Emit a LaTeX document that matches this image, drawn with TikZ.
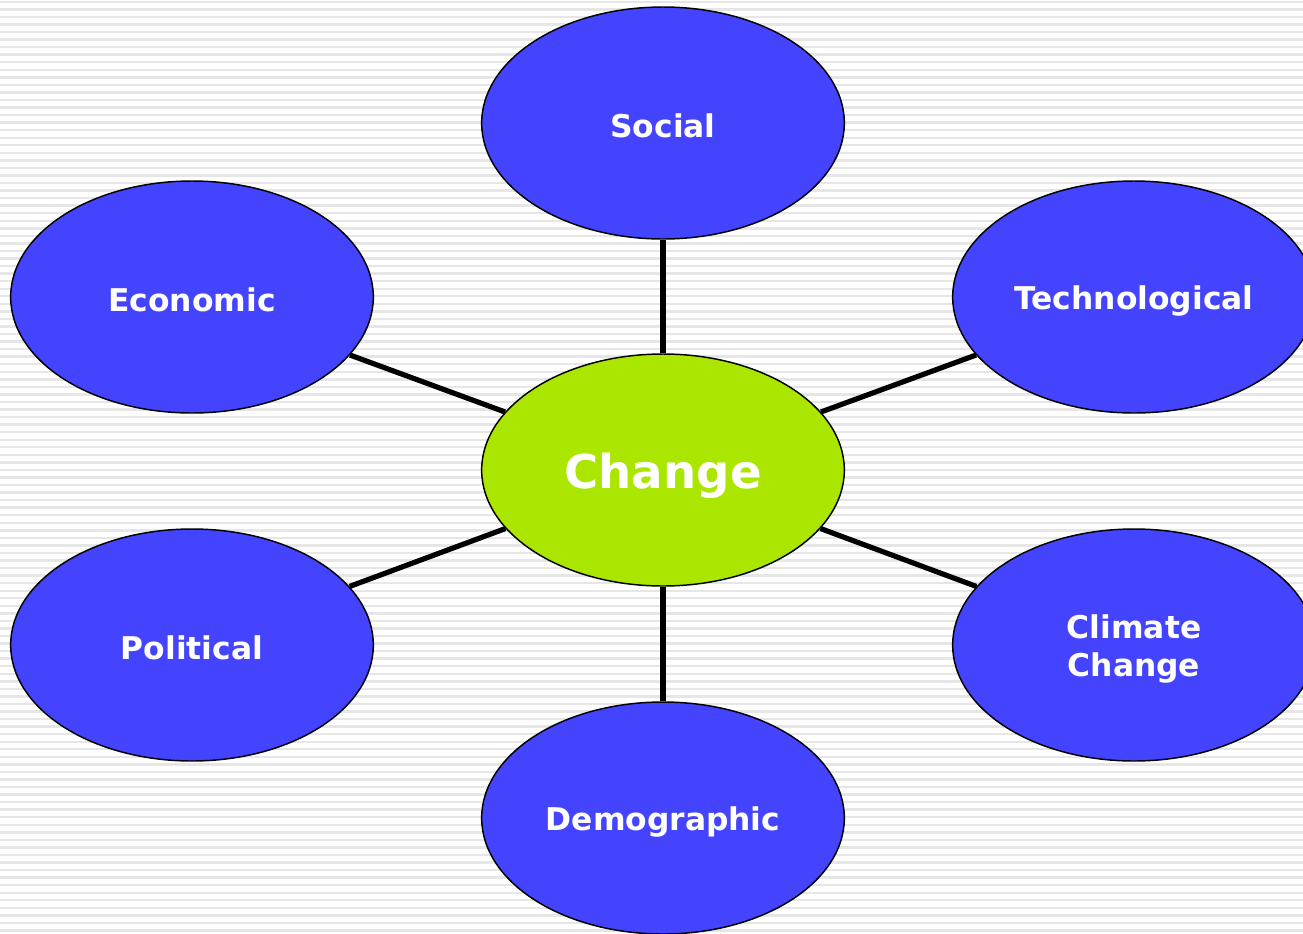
\documentclass[tikz,border=0pt]{standalone}
\usepackage{fontspec}
\setmainfont{DejaVu Sans}
\usetikzlibrary{shapes.geometric}
\definecolor{bluefill}{HTML}{4444FF}
\definecolor{greenfill}{HTML}{AAE600}
\definecolor{stripecol}{HTML}{E6E6E6}
\newcommand{\lowered}[2]{\raisebox{-#1}[\height][\depth]{#2}}
\tikzset{
  bubble/.style={ellipse, draw=black, line width=1.1pt, fill=bluefill,
    minimum width=272pt, minimum height=174pt, inner sep=0pt,
    text=white, font=\fontsize{23.5pt}{29pt}\selectfont\bfseries, align=center},
  hub/.style={bubble, fill=greenfill, font=\fontsize{35pt}{40pt}\selectfont\bfseries},
  link/.style={line width=3.9pt, black}
}
\begin{document}
\begin{tikzpicture}[x=0.75pt,y=-0.75pt]
\useasboundingbox (0,0) rectangle (1303,933);
\clip (0,0) rectangle (1303,933);
\fill[white] (0,0) rectangle (1303,933);
\foreach \i in {0,...,124} \fill[stripecol] (0,{0.6+\i*7.55}) rectangle (1303,{3.0+\i*7.55});
\node[hub] (change) at (663,470) {\lowered{4.5pt}{Change}};
\node[bubble] (social) at (663,123) {\lowered{2pt}{Social}};
\node[bubble] (econ) at (192,297) {\lowered{2pt}{Economic}};
\node[bubble] (tech) at (1134,297) {\lowered{3pt}{Technological}};
\node[bubble] (pol) at (192,645) {\lowered{2pt}{Political}};
\node[bubble] (clim) at (1134,645) {\lowered{3pt}{Climate}\\\lowered{3pt}{Change}};
\node[bubble] (demo) at (663,818) {\lowered{3pt}{Demographic}};
\foreach \n in {social,econ,tech,pol,clim,demo} \draw[link] (change) -- (\n);
\end{tikzpicture}
\end{document}
